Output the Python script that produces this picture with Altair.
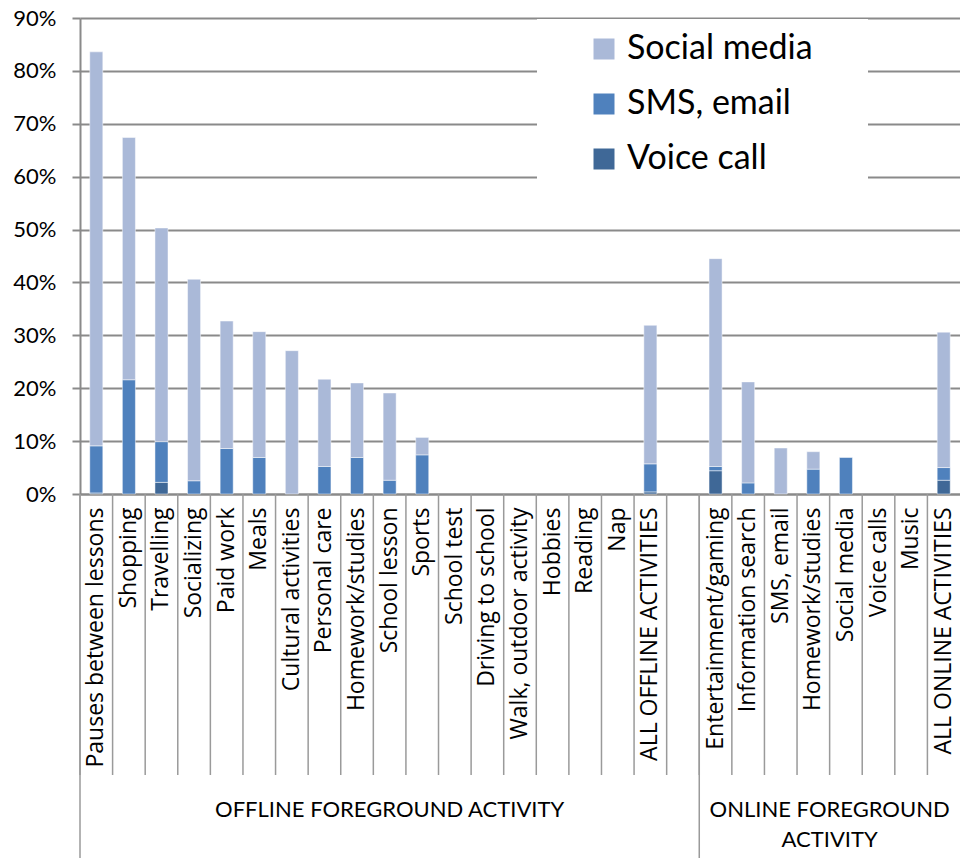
import json
import math
import altair as alt
import pandas as pd

# Foreground activities (category axis), offline group then online group
offline_acts = [
    "Pauses between lessons", "Shopping", "Travelling", "Socializing", "Paid work",
    "Meals", "Cultural activities", "Personal care", "Homework/studies", "School lesson",
    "Sports", "School test", "Driving to school", "Walk, outdoor activity", "Hobbies",
    "Reading", "Nap", "ALL OFFLINE ACTIVITIES",
]
online_acts = [
    "Entertainment/gaming", "Information search", "SMS, email", "Homework/studies",
    "Social media", "Voice calls", "Music", "ALL ONLINE ACTIVITIES",
]

# Share of each background mobile use (percent), stacked per activity
voice_off  = [0.2, 0.0, 2.2, 0.0, 0.0, 0.0, 0.0, 0.0, 0.0, 0.0, 0.0, 0, 0, 0, 0, 0, 0, 0.4]
sms_off    = [8.9, 21.6, 7.7, 2.5, 8.6, 6.9, 0.0, 5.2, 6.9, 2.6, 7.4, 0, 0, 0, 0, 0, 0, 5.3]
social_off = [74.5, 45.8, 40.4, 38.1, 24.1, 23.8, 27.1, 16.5, 14.1, 16.5, 3.3, 0, 0, 0, 0, 0, 0, 26.2]

voice_on  = [4.4, 0.0, 0.0, 0.0, 0.0, 0, 0, 2.6]
sms_on    = [0.8, 2.1, 0.0, 4.7, 6.9, 0, 0, 2.4]
social_on = [39.3, 19.1, 8.7, 3.3, 0.0, 0, 0, 25.6]

series = ["Social media", "SMS, email", "Voice call"]
colors = ["#AAB9D8", "#4F81BD", "#3F6897"]

offline_caption = ["OFFLINE FOREGROUND ACTIVITY"]
online_caption = ["ONLINE FOREGROUND", "ACTIVITY"]

# One empty slot separates the two groups
labels = offline_acts + [""] + online_acts
voice = voice_off + [0] + voice_on
sms = sms_off + [0] + sms_on
social = social_off + [0] + social_on
n_slots = len(labels)
online_start = len(offline_acts) + 1

rows = []
for i in range(n_slots):
    for order, (name, vals) in enumerate(
        [("Voice call", voice), ("SMS, email", sms), ("Social media", social)]
    ):
        if vals[i] > 0:
            rows.append({"slot": i, "series": name, "value": vals[i] / 100, "order": order})
bars_df = pd.DataFrame(rows)

slots_df = pd.DataFrame({"slot": list(range(n_slots))})
groups_df = pd.DataFrame({"slot": [0, online_start]})

W, H = 880, 476
GRID = "#8A8A8A"
PAD_INNER = 0.6
STEP = W / n_slots
# shift from a bar's left edge back to the edge of its category slot
SLOT_EDGE = -PAD_INNER / 2 * STEP

x_scale = alt.Scale(domain=list(range(n_slots)), paddingInner=PAD_INNER, paddingOuter=PAD_INNER / 2)
x_axis = alt.Axis(
    title=None,
    labelExpr=f"{json.dumps(labels)}[datum.value]",
    labelAngle=-90,
    labelFont="Open Sans",
    labelFontSize=23,
    labelColor="black",
    labelPadding=13,
    labelLimit=400,
    ticks=False,
    grid=False,
    domainColor=GRID,
    domainWidth=2,
)


def xenc(band_start=False):
    if band_start:
        return alt.X("slot:O", scale=x_scale, axis=x_axis, bandPosition=0)
    return alt.X("slot:O", scale=x_scale, axis=x_axis)


bars = alt.Chart(bars_df).mark_bar(
    stroke="white", strokeWidth=0.8, strokeOpacity=0.6
).encode(
    x=xenc(),
    y=alt.Y(
        "value:Q",
        stack="zero",
        scale=alt.Scale(domain=[0, 0.9], nice=False),
        axis=alt.Axis(
            title=None,
            format=".0%",
            values=[i / 10 for i in range(10)],
            grid=True,
            gridColor=GRID,
            gridWidth=2,
            tickColor=GRID,
            tickWidth=2,
            tickSize=8,
            domainColor=GRID,
            domainWidth=2,
            labelFont="Lato",
            labelFontSize=22,
            labelColor="black",
            labelPadding=16,
        ),
    ),
    color=alt.Color(
        "series:N",
        scale=alt.Scale(domain=series, range=colors),
        legend=alt.Legend(
            orient="none",
            legendX=507,
            legendY=14,
            title=None,
            symbolType="square",
            symbolSize=441,
            symbolStrokeWidth=0,
            labelFont="Lato",
            labelFontSize=34,
            labelColor="black",
            labelOffset=6,
            labelLimit=400,
            rowPadding=21,
            padding=0,
        ),
    ),
    order=alt.Order("order:Q", sort="ascending"),
)

# white panel behind the legend
legend_bg = alt.Chart(pd.DataFrame({"k": [0]})).mark_rect(color="white").encode(
    x=alt.value(457), x2=alt.value(788), y=alt.value(1), y2=alt.value(172)
)

separators = alt.Chart(slots_df).mark_rule(
    color="#9A9A9A", strokeWidth=1.5, xOffset=SLOT_EDGE
).encode(x=xenc(True), y=alt.value(H), y2=alt.value(H + 281))

group_lines = alt.Chart(groups_df).mark_rule(
    color="#9A9A9A", strokeWidth=1.5, xOffset=SLOT_EDGE
).encode(x=xenc(True), y=alt.value(H), y2=alt.value(H + 364))


def caption(text, first, last, y):
    """Group caption centred on the span of slots first..last-1."""
    centre = (first + last) / 2
    slot = math.floor(centre)
    offset = SLOT_EDGE + (centre - slot) * STEP
    return alt.Chart(pd.DataFrame({"slot": [slot], "text": [text]})).mark_text(
        font="Lato", fontSize=22, color="black", baseline="middle", align="center",
        xOffset=offset,
    ).encode(x=xenc(True), y=alt.value(y), text="text:N")


captions = [
    caption(offline_caption[0], 0, online_start, H + 316),
    caption(online_caption[0], online_start, n_slots, H + 316),
    caption(online_caption[1], online_start, n_slots, H + 346),
]

chart = alt.layer(
    legend_bg, bars, separators, group_lines, *captions
).properties(
    width=W,
    height=H,
    autosize=alt.AutoSizeParams(type="none"),
    padding={"left": 80, "top": 18, "right": 0, "bottom": 364},
    background="white",
).configure_view(strokeWidth=0)

chart.save("out.html", embed_options={"renderer": "svg", "actions": False})
